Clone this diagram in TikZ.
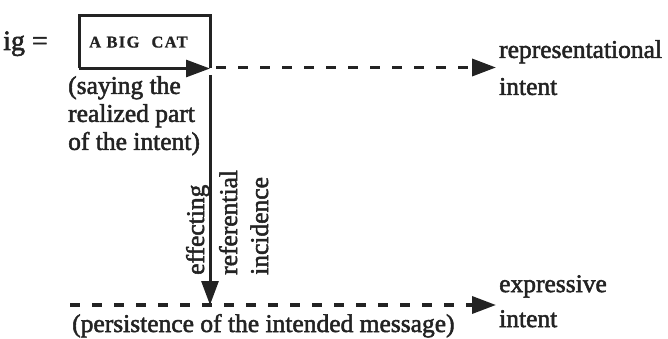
\documentclass[tikz,border=0pt]{standalone}
\usepackage{fontspec}
\setmainfont{Liberation Serif}[FakeBold=2]
\newfontfamily\capsfont{Liberation Serif Bold}[FakeBold=1,LetterSpace=8]
\usetikzlibrary{arrows.meta}
\definecolor{ink}{RGB}{35,35,35}
\tikzset{
  lbl/.style={inner sep=0pt, text=ink, font=\fontsize{25.5}{28}\selectfont},
  sideline/.style={lbl, align=left, anchor=north west, font=\fontsize{25.5}{37}\selectfont},
  vlbl/.style={lbl, rotate=90, anchor=base west},
  solidline/.style={draw=ink, line width=3pt},
  dashline/.style={draw=ink, line width=3.5pt, dash pattern=on 10pt off 12pt},
  tip/.style={-{Triangle[length=24pt,width=17pt]}},
}
\begin{document}
\begin{tikzpicture}[x=1pt,y=-1pt]
\useasboundingbox (0,0) rectangle (668,339);
% labels
\node[lbl, anchor=base west, font=\fontsize{28}{30}\selectfont] (ig) at (3,50) {ig =};
\node[lbl, font=\capsfont\fontsize{16.5}{18}\selectfont, anchor=base west] (cat) at (89,47.5) {A BIG\hspace{12pt}CAT};
\node[lbl, align=left, anchor=north west] (say) at (68,76) {(saying the\\realized part\\of the intent)};
\node[sideline] (rep) at (499,40) {representational\\intent};
\node[sideline, font=\fontsize{25.5}{35}\selectfont] (exp) at (499,275) {expressive\\intent};
\node[lbl, anchor=base west] (pers) at (72,332) {(persistence of the intended message)};
\node[vlbl] (eff) at (204,275) {effecting};
\node[vlbl] (ref) at (237,275) {referential};
\node[vlbl] (inc) at (268,275) {incidence};
% box
\coordinate (bnw) at (79,16);
\coordinate (bse) at (210,68.5);
\coordinate (j1) at (216,67.5);
\coordinate (j2) at (210,75);
\coordinate (bl) at (70,305);
\draw[solidline] (bnw |- bse) -- (bnw) -- (bse |- bnw) -- (bse);
\draw[solidline, tip] (bnw |- bse) -- (bse);
% connectors
\draw[dashline, tip, shorten >=3pt] (j1) -- (j1 -| rep.west);
\draw[solidline, tip] (j2) -- (bse |- bl);
\draw[dashline, tip, shorten >=3pt] (bl) -- (bl -| exp.west);
\end{tikzpicture}
\end{document}
